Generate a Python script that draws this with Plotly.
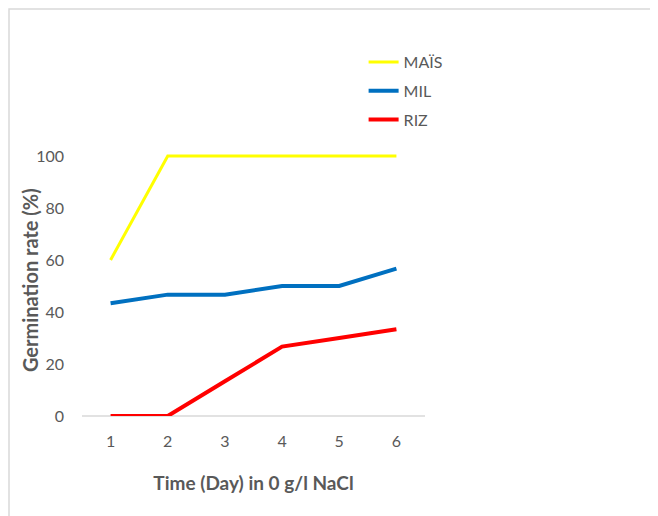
import plotly.graph_objects as go

days = [1, 2, 3, 4, 5, 6]
day_labels = ["1", "2", "3", "4", "5", "6"]
mais = [60, 100, 100, 100, 100, 100]
mil = [43.33, 46.67, 46.67, 50, 50, 56.67]
riz = [0, 0, 13.33, 26.67, 30, 33.33]

series = [("MAÏS", mais, "#FFFF00", 3), ("MIL", mil, "#0070C0", 4), ("RIZ", riz, "#FF0000", 4)]

fig = go.Figure()
for name, vals, color, w in series:
    fig.add_trace(go.Scatter(x=days, y=vals, mode="lines", name=name, legendgroup=name,
                             line=dict(color=color, width=w)))

font = "Lato, 'Noto Sans', sans-serif"
# page has an 8px body margin: figure is 650x508 placed at (8, 8)
fig.update_layout(
    width=650, height=508,
    margin=dict(l=74, r=233, t=143, b=100, autoexpand=False),
    paper_bgcolor="white", plot_bgcolor="white",
    font=dict(family=font, color="#595959", size=14),
    showlegend=True,
    legend=dict(x=0.821, y=1.40, xanchor="left", yanchor="top", traceorder="grouped",
                tracegroupgap=5, font=dict(size=16, color="#595959"), bgcolor="rgba(0,0,0,0)"),
    xaxis=dict(range=[0.5, 6.5], tickmode="array", tickvals=days, ticktext=day_labels,
               showgrid=False, zeroline=False, showline=False, ticks="", automargin=False,
               ticklabelstandoff=14, tickfont=dict(size=16),
               title=dict(text="<b>Time (Day) in 0 g/l NaCl</b>", font=dict(size=19), standoff=27)),
    yaxis=dict(range=[0, 101.9], tickmode="array", tickvals=[0, 20, 40, 60, 80, 100],
               showgrid=False, zeroline=False, showline=False, ticks="", automargin=False,
               ticklabelstandoff=17, tickfont=dict(size=16)),
    annotations=[
        dict(text="<b>Germination rate (%)</b>", xref="paper", yref="paper",
             x=-0.1516, y=0.513, xanchor="center", yanchor="middle", textangle=-90,
             showarrow=False, font=dict(size=20, color="#595959")),
    ],
    shapes=[
        dict(type="line", xref="paper", yref="paper", x0=0, x1=1, y0=0, y1=0,
             line=dict(color="#D9D9D9", width=1.5), layer="below"),
        dict(type="rect", xref="paper", yref="paper", x0=-0.2128, x1=1.9, y0=-0.6, y1=1.536,
             line=dict(color="#D9D9D9", width=1.5), fillcolor="rgba(0,0,0,0)", layer="below"),
    ],
)
fig.write_html("out.html")
